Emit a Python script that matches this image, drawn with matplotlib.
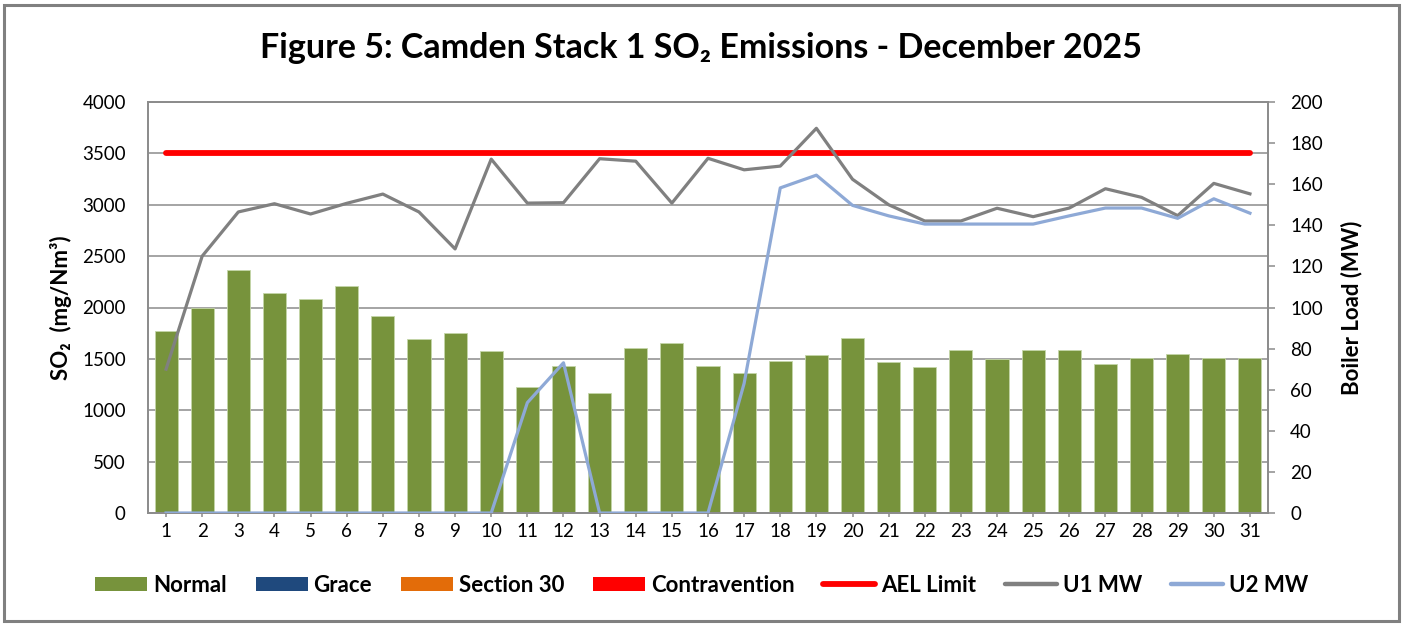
import matplotlib
matplotlib.use("Agg")
import matplotlib.pyplot as plt
from matplotlib.patches import Patch, Rectangle
from matplotlib.lines import Line2D

plt.rcParams['font.family'] = ['Lato', 'DejaVu Sans']

days = list(range(1, 32))
day_labels = [str(d) for d in days]
so2_normal = [1770, 1995, 2365, 2145, 2080, 2205, 1917, 1697, 1755, 1580,
              1223, 1431, 1168, 1609, 1657, 1431, 1366, 1479, 1538, 1706,
              1470, 1424, 1583, 1502, 1583, 1586, 1453, 1505, 1550, 1508, 1508]
ael_limit = [3500] * 31
u1_mw = [70, 125, 146.5, 150.5, 145.5, 150.7, 155.2, 146.5, 128.5, 172.2,
         150.8, 151, 172.4, 171.2, 150.8, 172.6, 167, 168.8, 187.2, 162.4,
         150, 142.1, 142.1, 148.3, 144.2, 148.4, 157.8, 153.6, 144.7, 160.4, 155.3]
u2_mw = [0, 0, 0, 0, 0, 0, 0, 0, 0, 0,
         53.7, 73.1, 0, 0, 0, 0, 63.1, 158.2, 164.4, 149.7,
         144.6, 140.6, 140.6, 140.6, 140.6, 144.6, 148.4, 148.4, 143.4, 152.9, 145.9]

legend_labels = ['Normal', 'Grace', 'Section 30', 'Contravention', 'AEL Limit', 'U1 MW', 'U2 MW']

C_NORMAL = '#77933C'
C_GRACE = '#1F497D'
C_S30 = '#E36C09'
C_CONTRA = '#FF0000'
C_AEL = '#FF0000'
C_U1 = '#808080'
C_U2 = '#8EA9D6'
C_GRID = '#8C8C8C'

fig = plt.figure(figsize=(14.03, 6.26), dpi=100)
ax = fig.add_axes([148/1403, 1-513/626, (1268-148)/1403, (513-102)/626])
ax2 = ax.twinx()

ax.bar(days, so2_normal, width=0.64, color=C_NORMAL, edgecolor='#C4D6A8', linewidth=0.6, zorder=2)
ax.plot(days, ael_limit, color=C_AEL, lw=4.2, solid_capstyle='round', zorder=3)
ax2.plot(days, u1_mw, color=C_U1, lw=2.3, zorder=3)
ax2.plot(days, u2_mw, color=C_U2, lw=2.3, zorder=3)

ax.set_xlim(0.5, 31.5)
ax.set_ylim(0, 4000)
ax.set_yticks(range(0, 4001, 500))
ax2.set_ylim(0, 200)
ax2.set_yticks(range(0, 201, 20))
ax.set_xticks(days)
ax.set_xticklabels(day_labels)

ax.yaxis.grid(True, color=C_GRID, lw=1.1, zorder=0)
ax.set_axisbelow(True)

for a in (ax, ax2):
    for s in a.spines.values():
        s.set_color(C_GRID)
        s.set_linewidth(1.3)
    a.tick_params(axis='both', colors=C_GRID, labelcolor='black', labelsize=13.5,
                  width=1.1, direction='out')
ax.tick_params(axis='y', length=0, pad=16)
ax.tick_params(axis='x', length=3, pad=4)
ax2.tick_params(axis='y', length=5, pad=11)

ax.set_ylabel('SO₂  (mg/Nm³)', fontsize=16, fontweight='bold', labelpad=7)
ax2.set_ylabel('Boiler Load (MW)', fontsize=16, fontweight='bold', labelpad=13)

fig.text(0.5, 1-48/626, 'Figure 5: Camden Stack 1 SO₂ Emissions - December 2025',
         ha='center', va='center', fontsize=24.5, fontweight='bold')

handles = [Patch(facecolor=C_NORMAL), Patch(facecolor=C_GRACE), Patch(facecolor=C_S30),
           Patch(facecolor=C_CONTRA),
           Line2D([], [], color=C_AEL, lw=4.2, solid_capstyle='round'),
           Line2D([], [], color=C_U1, lw=3.2, solid_capstyle='round'),
           Line2D([], [], color=C_U2, lw=3.2, solid_capstyle='round')]
leg = fig.legend(handles, legend_labels, loc='center', bbox_to_anchor=(0.5, 1-585/626),
                 ncol=7, frameon=False, handlelength=2.35, handleheight=0.6,
                 handletextpad=0.25, columnspacing=1.3,
                 prop={'weight': 'bold', 'size': 16})

fig.patches.append(Rectangle((4/1403, 5/626), 1-8/1403, 1-10/626, transform=fig.transFigure,
                             fill=False, edgecolor='#808080', lw=2.2))

fig.savefig('out.png', dpi=100)
